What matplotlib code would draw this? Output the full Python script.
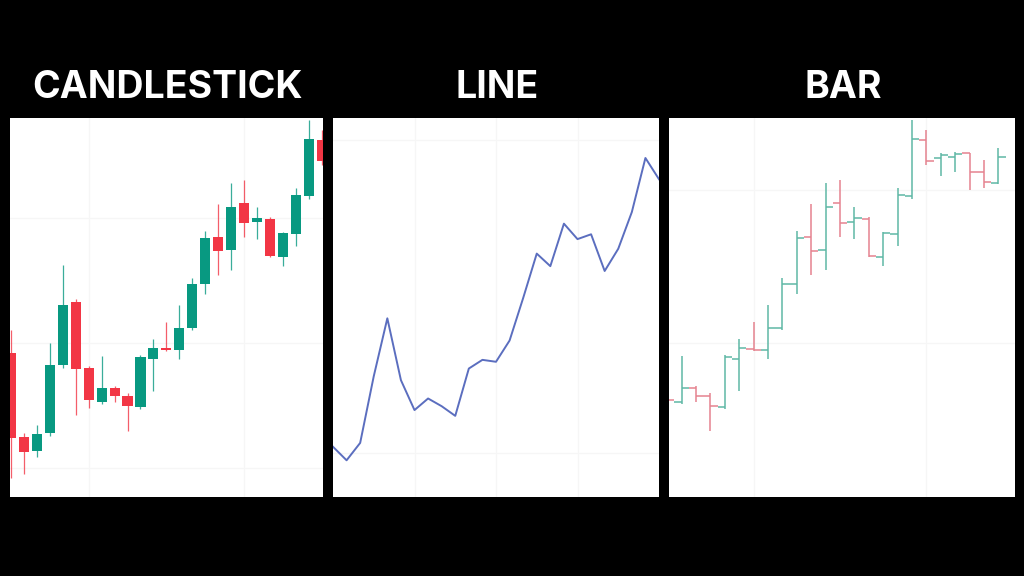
import matplotlib.pyplot as plt
import numpy as np

# OHLC prices (same series feeds all three panels)
opens  = [36.75, 15.75, 12.25, 16.75, 33.75, 49.5, 33.0, 24.5, 28.0, 26.0,
          23.25, 35.25, 37.75, 37.5, 43.0, 54.0, 65.75, 62.5, 74.25, 69.5,
          70.25, 60.75, 66.5, 76.0, 90.0, 85.5, 85.75, 86.75, 82.0, 79.25]
highs  = [42.5, 16.75, 18.75, 39.25, 58.75, 50.25, 33.5, 36.0, 28.5, 26.75,
          36.25, 40.25, 44.5, 48.75, 55.5, 67.25, 74.0, 79.25, 80.0, 73.25,
          70.75, 67.0, 78.0, 95.0, 92.5, 86.75, 87.0, 86.75, 85.0, 88.0]
lows   = [5.5, 6.5, 10.75, 16.0, 33.0, 21.25, 23.0, 24.0, 24.5, 17.25,
          22.75, 27.25, 37.25, 35.25, 42.5, 51.5, 56.25, 57.5, 65.75, 65.25,
          60.75, 58.5, 63.5, 75.25, 83.75, 81.0, 82.0, 77.5, 78.0, 79.0]
closes = [15.5, 12.0, 16.5, 33.75, 48.75, 32.75, 25.0, 28.0, 26.0, 23.5,
          35.75, 38.0, 37.5, 43.0, 54.0, 65.5, 62.25, 73.25, 69.25, 70.5,
          61.0, 66.75, 76.25, 90.25, 84.75, 86.25, 86.5, 82.0, 79.5, 85.75]

titles = ["CANDLESTICK", "LINE", "BAR"]

GREEN = '#089981'
RED = '#f23645'
BAR_GREEN = '#5fb8a6'
BAR_RED = '#e5838f'
GRID = '#f6f6f6'

idx = np.arange(len(opens))
o = np.array(opens); h = np.array(highs); l = np.array(lows); c = np.array(closes)
up = c >= o

fig = plt.figure(figsize=(10.24, 5.76), dpi=100, facecolor='black')

W, H = 1024, 576
def panel(x0, x1, y0=118, y1=497):
    ax = fig.add_axes([x0 / W, 1 - y1 / H, (x1 - x0) / W, (y1 - y0) / H])
    ax.set_facecolor('white')
    for s in ax.spines.values():
        s.set_visible(False)
    ax.tick_params(length=0, labelbottom=False, labelleft=False)
    ax.grid(True, color=GRID, lw=0.9)
    ax.set_axisbelow(True)
    return ax

# candlestick
ax1 = panel(10, 323)
n1 = 25
cols = np.where(up, GREEN, RED)
ax1.vlines(idx[:n1], l[:n1], h[:n1], colors=cols[:n1], lw=0.9, alpha=0.8)
body = np.maximum(np.abs(c - o), 0.5)
ax1.bar(idx[:n1], body[:n1], bottom=np.minimum(o, c)[:n1], width=0.78,
        color=cols[:n1], edgecolor='none')
ax1.set_xlim(-0.08, 24.1)
ax1.set_ylim(0.75, 95.5)
ax1.set_xticks([6, 18])
ax1.set_yticks([8, 39.25, 70.5])

# line
ax2 = panel(333, 659)
ax2.plot(idx[:n1], c[:n1], color='#5b6ebf', lw=1.4)
ax2.set_xlim(0, 24)
ax2.set_ylim(2.5, 100.6)
ax2.set_xticks([6, 12, 18])
ax2.set_yticks([14, 95])

# OHLC bars
ax3 = panel(669, 1015)
bcols = np.where(up, BAR_GREEN, BAR_RED)
ax3.vlines(idx, l, h, colors=bcols, lw=1.1)
ax3.hlines(o, idx - 0.5, idx, colors=bcols, lw=1.1)
ax3.hlines(c, idx, idx + 0.5, colors=bcols, lw=1.1)
ax3.set_xlim(6.12, 30.15)
ax3.set_ylim(0.75, 95.5)
ax3.set_xticks([12, 24])
ax3.set_yticks([39.25, 77.5])

for t, cx in zip(titles, [167, 497, 843]):
    fig.text(cx / W, 1 - 98 / H, t, color='white', fontsize=27, fontweight='bold',
             family='Inter', ha='center', va='baseline')

fig.savefig('out.png', dpi=100, facecolor='black')
